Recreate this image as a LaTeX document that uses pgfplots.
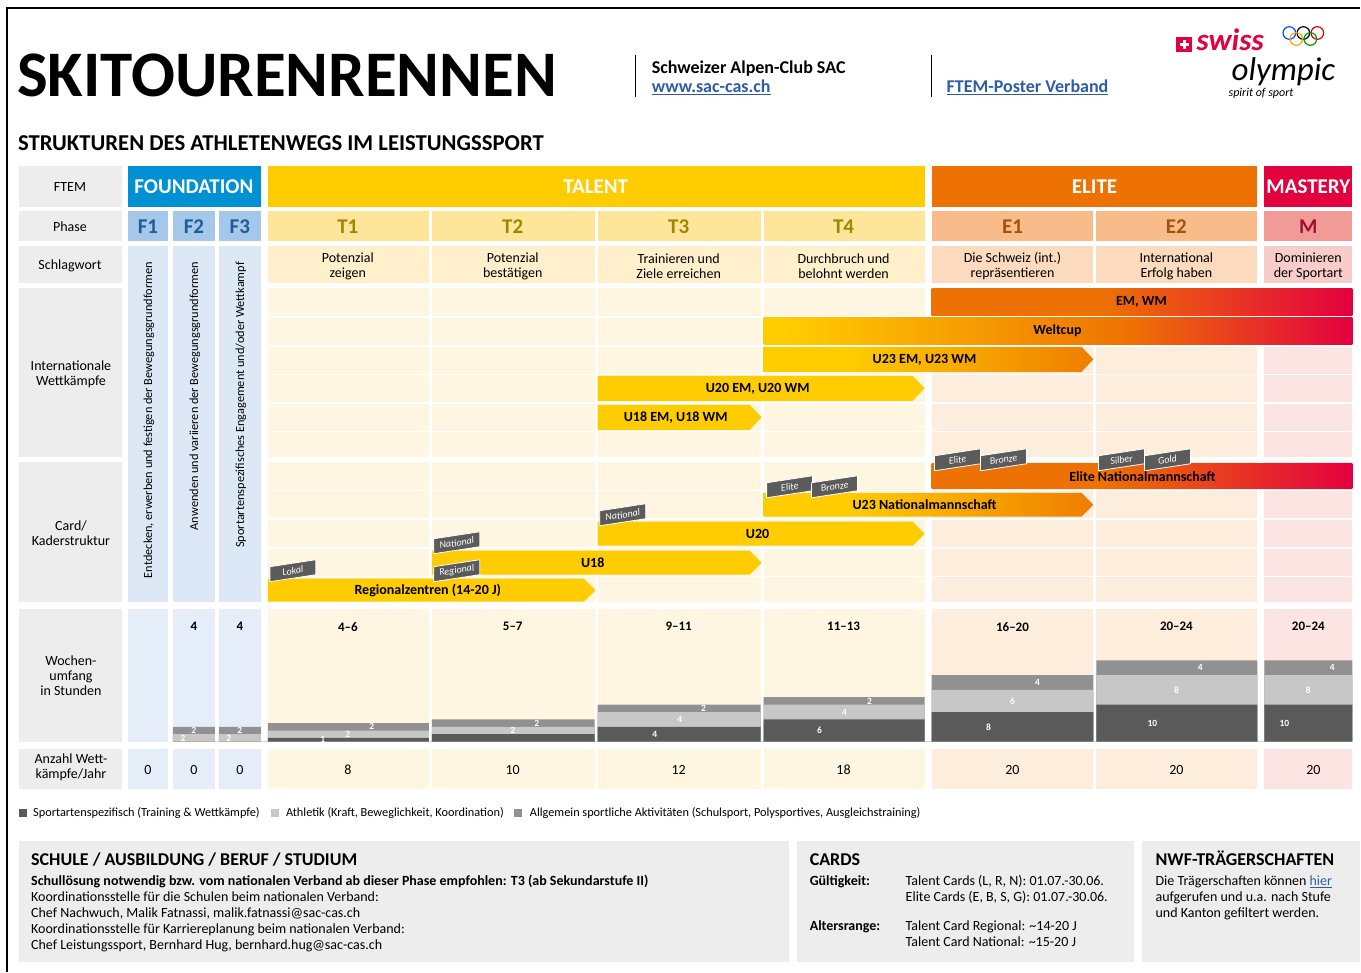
\documentclass[border=0pt]{standalone}
\usepackage{pgfplots}
\pgfplotsset{compat=1.18}
\usepackage{pgfplotstable}
\usepackage{fontspec}
\setmainfont{Carlito}

\definecolor{lab}{HTML}{EDEDED}
\definecolor{fblue}{HTML}{0090D4}
\definecolor{fph}{HTML}{A5C8EA}
\definecolor{fbody}{HTML}{DCE8F6}
\definecolor{fbody2}{HTML}{E4EDF8}
\definecolor{ftext}{HTML}{1F5E92}
\definecolor{tyel}{HTML}{FFCC00}
\definecolor{tph}{HTML}{FEE599}
\definecolor{tsw}{HTML}{FFF0CB}
\definecolor{tbody}{HTML}{FFF6E1}
\definecolor{ttext}{HTML}{A08700}
\definecolor{eora}{HTML}{EE7203}
\definecolor{eora2}{HTML}{EF7D00}
\definecolor{eph}{HTML}{F8BC8A}
\definecolor{esw}{HTML}{FCDABE}
\definecolor{ebody}{HTML}{FDEDDD}
\definecolor{etext}{HTML}{A3520B}
\definecolor{mred}{HTML}{E3003F}
\definecolor{mph}{HTML}{F29B96}
\definecolor{msw}{HTML}{F8CCC9}
\definecolor{mbody}{HTML}{FCE4E2}
\definecolor{mtext}{HTML}{9A1232}
\definecolor{sdark}{HTML}{5A5A5A}
\definecolor{slight}{HTML}{C7C7C7}
\definecolor{smed}{HTML}{919191}
\definecolor{tag}{HTML}{5B5B5B}
\definecolor{link}{HTML}{2C5EA8}

\pgfdeclarehorizontalshading{weltcup}{100bp}{color(0bp)=(tyel); color(27bp)=(tyel); color(56bp)=(eora); color(75bp)=(mred); color(100bp)=(mred)}
\pgfdeclarehorizontalshading{emwm}{100bp}{color(0bp)=(eora); color(45bp)=(eora); color(75bp)=(mred); color(100bp)=(mred)}
\pgfdeclarehorizontalshading{u23}{100bp}{color(0bp)=(tyel); color(38bp)=(tyel); color(75bp)=(eora2); color(100bp)=(eora2)}

\tikzset{
  t/.style={inner sep=0pt, align=center, font=\fontsize{14}{15}\selectfont},
  tb/.style={inner sep=0pt, align=center, font=\fontsize{14}{15}\selectfont\bfseries},
  tn/.style={inner sep=0pt, align=center, font=\fontsize{13}{15}\selectfont\bfseries},
  hd/.style={inner sep=0pt, text=white, font=\fontsize{21}{21}\selectfont\bfseries},
  ph/.style={inner sep=0pt, font=\fontsize{21}{21}\selectfont\bfseries},
  tg/.style={inner sep=0pt, text=white, rotate=8.6, font=\fontsize{10}{10}\selectfont\itshape},
  nb/.style={inner sep=0pt, text=white, font=\fontsize{9.5}{9.5}\selectfont\bfseries},
  lg/.style={inner sep=0pt, anchor=base west, font=\fontsize{12.3}{12.3}\selectfont},
  bx/.style={inner sep=0pt, anchor=base west, font=\fontsize{14}{14}\selectfont},
  bxb/.style={inner sep=0pt, anchor=base west, font=\fontsize{14}{14}\selectfont\bfseries},
  bxh/.style={inner sep=0pt, anchor=base west, font=\fontsize{18}{18}\selectfont\bfseries},
}
\newcommand\cell[5]{\fill[#5] (#1,#2) rectangle (#3,#4);}
\newcommand\colcells[5]{%
  \cell{#1}{211}{#2}{241}{#3}\cell{#1}{246}{#2}{283}{#4}%
  \cell{#1}{288}{#2}{457}{#5}\cell{#1}{462}{#2}{602}{#5}%
  \cell{#1}{609}{#2}{742}{#5}\cell{#1}{749}{#2}{789}{#5}}

% Wochenumfang: column edges (px) and hours per week
% d = Sportartenspezifisch, l = Athletik, m = Allgemein
\pgfplotstableread{
x    d  l  m
173  0  2  2
215  0  0  0
219  0  2  2
261  0  0  0
268  1  2  2
429  0  0  0
432  2  2  2
595  0  0  0
598  4  4  2
761  0  0  0
764  6  4  2
925  0  0  0
932  8  6  4
1094 0  0  0
1097 10 8  4
1258 0  0  0
1265 10 8  4
1353 0  0  0
}\wochen

\begin{document}
\begin{tikzpicture}
\begin{axis}[at={(0pt,0pt)}, anchor=south west, scale only axis,
  width=1361pt, height=972pt, xmin=0, xmax=1361, ymin=0, ymax=972,
  y dir=reverse, hide axis, clip=false]
\fill[white] (0,0) rectangle (1361,972);
\draw[black, line width=1.4pt] (7,972) -- (7,8) -- (1361,8);

% header
\node[anchor=base west, inner sep=0pt, font=\fontsize{65}{65}\selectfont\bfseries] at (17,97) {SKITOURENRENNEN};
\draw[black, line width=1pt] (636,55) -- (636,97);
\draw[black, line width=1pt] (932,55) -- (932,97);
\node[anchor=base west, inner sep=0pt, font=\fontsize{18}{18}\selectfont\bfseries] at (652,74) {Schweizer Alpen-Club SAC};
\node[anchor=base west, inner sep=0pt, text=link, font=\fontsize{18}{18}\selectfont\bfseries] at (652,93) {\underline{www.sac-cas.ch}};
\node[anchor=base west, inner sep=0pt, text=link, font=\fontsize{18}{18}\selectfont\bfseries] at (947,93) {\underline{FTEM-Poster Verband}};
% swiss olympic
\fill[mred] (1177,37) rectangle (1193,52);
\fill[white] (1183.5,40) rectangle (1186.5,49);
\fill[white] (1180.5,43) rectangle (1189.5,46);
\node[anchor=base west, inner sep=0pt, text=mred, font=\fontsize{31}{31}\selectfont\bfseries\itshape] at (1197,51) {swiss};
\node[anchor=base west, inner sep=0pt, font=\fontsize{33}{33}\selectfont\itshape] at (1232,81) {olympic};
\node[anchor=base west, inner sep=0pt, font=\fontsize{12}{12}\selectfont\itshape] at (1229,97) {spirit of sport};
\draw[blue!70!cyan, line width=1.2pt] (1290,33) circle[radius=6.3pt];
\draw[black, line width=1.2pt] (1304,33) circle[radius=6.3pt];
\draw[red!85!black, line width=1.2pt] (1318,33) circle[radius=6.3pt];
\draw[orange!70!yellow, line width=1.2pt] (1297,39) circle[radius=6.3pt];
\draw[green!60!black, line width=1.2pt] (1311,39) circle[radius=6.3pt];

\node[anchor=base west, inner sep=0pt, font=\fontsize{22.7}{22.7}\selectfont\bfseries] at (18,151) {STRUKTUREN DES ATHLETENWEGS IM LEISTUNGSSPORT};

% label column
\cell{19}{166}{122}{207}{lab}\cell{19}{211}{122}{241}{lab}\cell{19}{246}{122}{283}{lab}
\cell{19}{288}{122}{457}{lab}\cell{19}{462}{122}{602}{lab}\cell{19}{609}{122}{742}{lab}
\cell{19}{749}{122}{789}{lab}
% foundation
\cell{128}{166}{261}{207}{fblue}
\cell{128}{211}{168}{241}{fph}\cell{173}{211}{215}{241}{fph}\cell{219}{211}{261}{241}{fph}
\cell{128}{246}{168}{602}{fbody}\cell{173}{246}{215}{602}{fbody}\cell{219}{246}{261}{602}{fbody}
\cell{128}{609}{168}{742}{fbody2}\cell{173}{609}{215}{742}{fbody2}\cell{219}{609}{261}{742}{fbody2}
\cell{128}{749}{168}{789}{fbody2}\cell{173}{749}{215}{789}{fbody2}\cell{219}{749}{261}{789}{fbody2}
% talent, elite, mastery
\cell{268}{166}{925}{207}{tyel}
\colcells{268}{429}{tph}{tsw}{tbody}\colcells{432}{595}{tph}{tsw}{tbody}
\colcells{598}{761}{tph}{tsw}{tbody}\colcells{764}{925}{tph}{tsw}{tbody}
\cell{932}{166}{1258}{207}{eora}
\colcells{932}{1094}{eph}{esw}{ebody}\colcells{1097}{1258}{eph}{esw}{ebody}
\cell{1265}{166}{1353}{207}{mred}
\colcells{1265}{1353}{mph}{msw}{mbody}
% sub-row lines
\draw[white, line width=1.5pt] (268,317) -- (1353,317);
\draw[white, line width=1.5pt] (268,346) -- (1353,346);
\draw[white, line width=1.5pt] (268,374.5) -- (1353,374.5);
\draw[white, line width=1.5pt] (268,403) -- (1353,403);
\draw[white, line width=1.5pt] (268,431.5) -- (1353,431.5);
\draw[white, line width=1.5pt] (268,490.5) -- (1353,490.5);
\draw[white, line width=1.5pt] (268,519.5) -- (1353,519.5);
\draw[white, line width=1.5pt] (268,548.5) -- (1353,548.5);
\draw[white, line width=1.5pt] (268,577) -- (1353,577);

% row labels
\node[t] at (70,187) {FTEM};
\node[t] at (70,227) {Phase};
\node[t] at (70,266) {Schlagwort};
\node[t] at (71,374) {Internationale\\Wettkämpfe};
\node[t] at (71,533) {Card/\\Kaderstruktur};
\node[t] at (71,676) {Wochen-\\umfang\\in Stunden};
\node[t] at (71,768) {Anzahl Wett-\\kämpfe/Jahr};

% FTEM
\node[hd] at (194,187) {FOUNDATION};
\node[hd] at (596,187) {TALENT};
\node[hd] at (1095,187) {ELITE};
\node[hd] at (1309,187) {MASTERY};
% phases
\node[ph, text=ftext] at (148,227) {F1};
\node[ph, text=ftext] at (194,227) {F2};
\node[ph, text=ftext] at (240,227) {F3};
\node[ph, text=ttext] at (348,227) {T1};
\node[ph, text=ttext] at (513,227) {T2};
\node[ph, text=ttext] at (679,227) {T3};
\node[ph, text=ttext] at (844,227) {T4};
\node[ph, text=etext] at (1013,227) {E1};
\node[ph, text=etext] at (1177,227) {E2};
\node[ph, text=mtext] at (1309,227) {M};
% Schlagwort
\node[t] at (348,266) {Potenzial\\zeigen};
\node[t] at (513,266) {Potenzial\\bestätigen};
\node[t] at (679,266) {Trainieren und\\Ziele erreichen};
\node[t] at (844,266) {Durchbruch und\\belohnt werden};
\node[t] at (1013,266) {Die Schweiz (int.)\\repräsentieren};
\node[t] at (1177,266) {International\\Erfolg haben};
\node[t] at (1309,266) {Dominieren\\der Sportart};
% foundation vertical texts
\node[rotate=90, anchor=east, inner sep=0pt, font=\fontsize{12.3}{12.3}\selectfont] at (149,262) {Entdecken, erwerben und festigen der Bewegungsgrundformen};
\node[rotate=90, anchor=east, inner sep=0pt, font=\fontsize{12.3}{12.3}\selectfont] at (195,262) {Anwenden und variieren der Bewegungsgrundformen};
\node[rotate=90, anchor=east, inner sep=0pt, font=\fontsize{12.3}{12.3}\selectfont] at (241,262) {Sportartenspezifisches Engagement und/oder Wettkampf};

% competitions and squads (start, end, tip)
\addplot[fill=tyel, draw=none] coordinates {(268,579)(584,579)(596,590.5)(584,602)(268,602)};
\addplot[fill=tyel, draw=none] coordinates {(432,551)(750,551)(762,563)(750,575)(432,575)};
\addplot[fill=tyel, draw=none] coordinates {(598,522)(913,522)(925,534)(913,546)(598,546)};
\addplot[shading=u23, draw=none] coordinates {(764,493)(1082,493)(1094,505)(1082,517)(764,517)};
\addplot[shading=emwm, draw=none] coordinates {(932,464)(1353,464)(1353,489)(932,489)};
\addplot[fill=tyel, draw=none] coordinates {(598,405)(750,405)(762,417.5)(750,430)(598,430)};
\addplot[fill=tyel, draw=none] coordinates {(598,376)(913,376)(925,388.5)(913,401)(598,401)};
\addplot[shading=u23, draw=none] coordinates {(764,347)(1082,347)(1094,359.5)(1082,372)(764,372)};
\addplot[shading=weltcup, draw=none] coordinates {(764,318)(1353,318)(1353,345)(764,345)};
\addplot[shading=emwm, draw=none] coordinates {(932,289)(1353,289)(1353,316)(932,316)};
\node[tb] at (428,591) {Regionalzentren (14-20 J)};
\node[tb] at (593,563) {U18};
\node[tb] at (758,534) {U20};
\node[tb] at (925,505) {U23 Nationalmannschaft};
\node[tb] at (1143,477) {Elite Nationalmannschaft};
\node[tb] at (676,418) {U18 EM, U18 WM};
\node[tb] at (758,389) {U20 EM, U20 WM};
\node[tb] at (925,360) {U23 EM, U23 WM};
\node[tb] at (1058,331) {Weltcup};
\node[tb] at (1142,302) {EM, WM};

% card tags
\addplot[fill=tag, draw=white, line width=0.8pt] coordinates {(270,582)(270,567)(316,560)(316,575)(270,582)};
\addplot[fill=tag, draw=white, line width=0.8pt] coordinates {(434,582)(434,567)(480,560)(480,575)(434,582)};
\addplot[fill=tag, draw=white, line width=0.8pt] coordinates {(434,554)(434,539)(480,532)(480,547)(434,554)};
\addplot[fill=tag, draw=white, line width=0.8pt] coordinates {(600,526)(600,511)(646,504)(646,519)(600,526)};
\addplot[fill=tag, draw=white, line width=0.8pt] coordinates {(767,498)(767,483)(813,476)(813,491)(767,498)};
\addplot[fill=tag, draw=white, line width=0.8pt] coordinates {(812,498)(812,483)(858,476)(858,491)(812,498)};
\addplot[fill=tag, draw=white, line width=0.8pt] coordinates {(935,471)(935,456)(981,449)(981,464)(935,471)};
\addplot[fill=tag, draw=white, line width=0.8pt] coordinates {(981,471)(981,456)(1027,449)(1027,464)(981,471)};
\addplot[fill=tag, draw=white, line width=0.8pt] coordinates {(1099,471)(1099,456)(1145,449)(1145,464)(1099,471)};
\addplot[fill=tag, draw=white, line width=0.8pt] coordinates {(1145,471)(1145,456)(1191,449)(1191,464)(1145,471)};
\node[tg] at (293,571) {Lokal};
\node[tg] at (457,571) {Regional};
\node[tg] at (457,543) {National};
\node[tg] at (623,515) {National};
\node[tg] at (790,487) {Elite};
\node[tg] at (835,487) {Bronze};
\node[tg] at (958,460) {Elite};
\node[tg] at (1004,460) {Bronze};
\node[tg] at (1122,460) {Silber};
\node[tg] at (1168,460) {Gold};

% Wochenumfang totals
\node[tn] at (194,627) {4};
\node[tn] at (240,627) {4};
\node[tn] at (348,627) {4--6};
\node[tn] at (513,627) {5--7};
\node[tn] at (679,627) {9--11};
\node[tn] at (844,627) {11--13};
\node[tn] at (1013,627) {16--20};
\node[tn] at (1177,627) {20--24};
\node[tn] at (1309,627) {20--24};
% Anzahl
\node[t] at (148,770) {0};
\node[t] at (194,770) {0};
\node[t] at (240,770) {0};
\node[t] at (348,770) {8};
\node[t] at (513,770) {10};
\node[t] at (679,770) {12};
\node[t] at (844,770) {18};
\node[t] at (1013,770) {20};
\node[t] at (1177,770) {20};
\node[t] at (1314,770) {20};

% legend
\fill[sdark] (19,809) rectangle (27,817);
\node[lg] at (33,817) {Sportartenspezifisch (Training \& Wettkämpfe)};
\fill[slight] (271,809) rectangle (279,817);
\node[lg] at (286,817) {Athletik (Kraft, Beweglichkeit, Koordination)};
\fill[smed] (514,809) rectangle (522,817);
\node[lg] at (530,817) {Allgemein sportliche Aktivitäten (Schulsport, Polysportives, Ausgleichstraining)};

% bottom boxes
\fill[lab] (19,841) rectangle (789,962);
\fill[lab] (797,841) rectangle (1135,962);
\fill[lab] (1143,841) rectangle (1361,962);
\node[bxh] at (31,866) {SCHULE / AUSBILDUNG / BERUF / STUDIUM};
\node[bxb] at (31,886) {Schullösung notwendig bzw. vom nationalen Verband ab dieser Phase empfohlen: T3 (ab Sekundarstufe II)};
\node[bx] at (31,902) {Koordinationsstelle für die Schulen beim nationalen Verband:};
\node[bx] at (31,918) {Chef Nachwuch, Malik Fatnassi, malik.fatnassi@sac-cas.ch};
\node[bx] at (31,934) {Koordinationsstelle für Karriereplanung beim nationalen Verband:};
\node[bx] at (31,950) {Chef Leistungssport, Bernhard Hug, bernhard.hug@sac-cas.ch};
\node[bxh] at (810,866) {CARDS};
\node[bxb] at (810,886) {Gültigkeit:};
\node[bx] at (906,886) {Talent Cards (L, R, N): 01.07.-30.06.};
\node[bx] at (906,902) {Elite Cards (E, B, S, G): 01.07.-30.06.};
\node[bxb] at (810,931) {Altersrange:};
\node[bx] at (906,931) {Talent Card Regional: \textasciitilde14-20 J};
\node[bx] at (906,947) {Talent Card National: \textasciitilde15-20 J};
\node[bxh] at (1156,866) {NWF-TRÄGERSCHAFTEN};
\node[bx] at (1156,886) {Die Trägerschaften können \textcolor{link}{\underline{hier}}};
\node[bx] at (1156,902) {aufgerufen und u.a. nach Stufe};
\node[bx] at (1156,918) {und Kanton gefiltert werden.};
\end{axis}

% stacked weekly hours, baseline at pixel row 742
\begin{axis}[at={(0pt,230pt)}, anchor=south west, scale only axis,
  width=1361pt, height=37pt, xmin=0, xmax=1361, ymin=0, ymax=10,
  hide axis, clip=false]
\addplot[ybar interval, fill=smed, draw=none] table[x=x, y expr=\thisrow{d}+\thisrow{l}+\thisrow{m}] {\wochen};
\addplot[ybar interval, fill=slight, draw=none] table[x=x, y expr=\thisrow{d}+\thisrow{l}] {\wochen};
\addplot[ybar interval, fill=sdark, draw=none] table[x=x, y=d] {\wochen};
\node[nb] at (183,1) {2};
\node[nb] at (194,3) {2};
\node[nb] at (229,1) {2};
\node[nb] at (240,3) {2};
\node[nb] at (323,0.5) {1};
\node[nb] at (348,2) {2};
\node[nb] at (372,4) {2};
\node[nb] at (513,3) {2};
\node[nb] at (537,5) {2};
\node[nb] at (655,2) {4};
\node[nb] at (680,6) {4};
\node[nb] at (704,9) {2};
\node[nb] at (820,3) {6};
\node[nb] at (845,8) {4};
\node[nb] at (870,11) {2};
\node[nb] at (989,4) {8};
\node[nb] at (1013,11) {6};
\node[nb] at (1038,16) {4};
\node[nb] at (1153,5) {10};
\node[nb] at (1177,14) {8};
\node[nb] at (1201,20) {4};
\node[nb] at (1285,5) {10};
\node[nb] at (1309,14) {8};
\node[nb] at (1333,20) {4};
\end{axis}
\end{tikzpicture}
\end{document}
